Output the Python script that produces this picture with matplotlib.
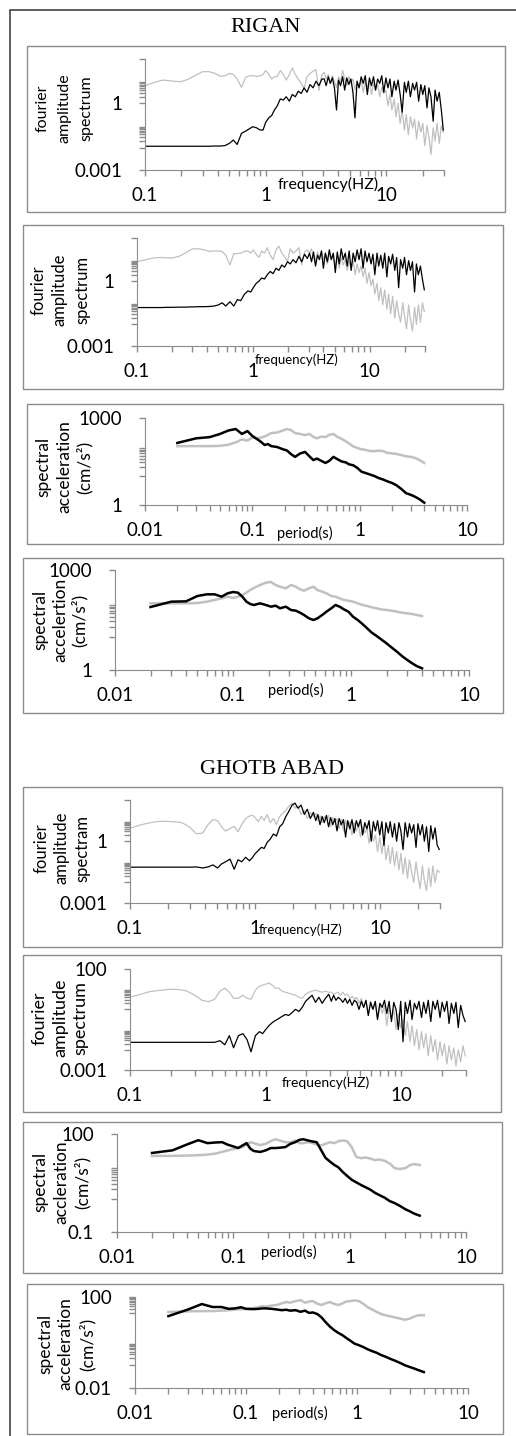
import numpy as np
import matplotlib.pyplot as plt
from matplotlib.patches import Rectangle
from matplotlib.ticker import FixedLocator, NullFormatter, LogLocator

plt.rcParams['font.family'] = ['Lato', 'DejaVu Sans']

# ---------------- Fourier amplitude spectra (log10 of amplitude) ----------------
# rows: 0.1-0.95 Hz (23), 1-2.92 Hz (20), 3.05-9.9 Hz (31), 10.3-29.6 Hz (28)
freq = [0.1, 0.12, 0.14, 0.16, 0.18, 0.2, 0.23, 0.26, 0.3, 0.34, 0.38, 0.42, 0.46, 0.5,
        0.54, 0.58, 0.63, 0.68, 0.73, 0.78, 0.84, 0.9, 0.95,
        1.0, 1.06, 1.12, 1.18, 1.25, 1.32, 1.4, 1.48, 1.57, 1.66, 1.76, 1.86, 1.97, 2.08,
        2.2, 2.33, 2.47, 2.61, 2.76, 2.92,
        3.05, 3.17, 3.3, 3.43, 3.57, 3.71, 3.86, 4.01, 4.17, 4.34, 4.51, 4.69, 4.88, 5.08,
        5.28, 5.49, 5.71, 5.94, 6.18, 6.43, 6.68, 6.95, 7.23, 7.52, 7.82, 8.13, 8.46, 8.8,
        9.15, 9.51, 9.9,
        10.3, 10.7, 11.1, 11.6, 12.0, 12.5, 13.0, 13.5, 14.1, 14.6, 15.2, 15.8, 16.5, 17.1,
        17.8, 18.5, 19.3, 20.0, 20.8, 21.7, 22.5, 23.4, 24.4, 25.3, 26.3, 27.4, 28.5, 29.6]

rigan_fas1_gray = [
    0.80, 0.95, 1.05, 1.02, 0.99, 0.98, 1.1, 1.25, 1.43, 1.43, 1.35, 1.22, 1.25, 1.35, 1.3, 1.1, 0.72, 1.18, 1.24, 1.25, 1.22, 1.24, 1.3,
    1.48, 1.3, 1.1, 1.2, 1.22, 1.48, 1.3, 1.05, 1.3, 1.6, 1.3, 1.1, 0.9, 0.67, 1.2, 1.35, 1.45, 1.52, 0.58, 1.3,
    1.4, 1.1, 1.3, 0.9, 1.26, 1.0, 0.72, 1.2, 1.0, 1.48, 1.1, 0.8, 1.2, 0.9, 1.1, 0.6, 1.0, 0.7, 1.05, 0.5, 0.95, 0.75, 1.0, 0.4, 0.9, 0.6, 0.85, 0.3, 0.7, 0.45, 0.6,
    -0.1, 0.4, -0.3, 0.2, -0.6, 0.0, -0.9, -0.3, -1.2, -0.5, -1.4, -0.6, -1.1, -0.7, -1.6, -0.8, -1.3, -0.9, -1.9, -1.0, -1.5, -2.3, -1.1, -1.7, -0.9, -1.8, -1.0, -1.3]
rigan_fas1_black = [
    -1.93, -1.93, -1.93, -1.93, -1.93, -1.93, -1.93, -1.93, -1.93, -1.93, -1.92, -1.92, -1.9, -1.8, -1.65, -1.85, -1.35, -1.25, -1.15, -1.05, -1.1, -1.2, -1.2,
    -0.85, -0.65, -0.55, -0.3, -0.1, 0.2, 0.15, 0.3, 0.1, 0.4, 0.3, 0.55, 0.45, 0.7, 0.5, 0.85, 0.7, 1.0, 0.8, 1.1,
    1.1, 0.8, 1.2, 0.9, 1.15, 0.7, -0.3, 1.05, 0.8, 1.2, 0.6, 1.15, 0.85, 1.1, 0.5, -0.65, 1.0, 0.7, 1.2, 0.9, 1.25, 0.4, 1.15, 0.8, 1.2, 0.6, 1.1, 0.9, 1.25, 0.5, 1.15,
    0.7, 1.1, 0.3, 1.0, 0.6, 1.05, 0.4, -0.4, 0.95, 0.5, 1.0, 0.3, 0.9, 0.6, 0.95, 0.1, 0.85, 0.4, 0.8, -0.2, 0.7, 0.3, -0.8, 0.6, 0.1, 0.5, -0.3, -1.2]

rigan_fas2_gray = [
    0.9, 1.0, 1.08, 1.1, 1.08, 1.07, 1.15, 1.3, 1.5, 1.5, 1.45, 1.38, 1.4, 1.4, 1.37, 1.2, 0.75, 1.27, 1.28, 1.3, 1.38, 1.4, 1.3,
    1.45, 1.25, 1.1, 1.4, 1.3, 1.55, 1.2, 1.0, 1.45, 1.62, 1.3, 1.15, 0.9, 1.5, 1.3, 1.4, 1.55, 0.75, 1.35, 1.45,
    1.3, 1.5, 1.1, 0.9, 1.35, 1.1, 1.4, 1.0, 1.3, 0.8, 1.25, 1.0, 1.2, 0.7, 1.15, 0.6, 1.1, 0.75, 1.0, 0.5, 0.9, 0.6, 0.95, 0.3, 0.8, 0.4, 0.7, 0.2, 0.6, -0.1, 0.4,
    -0.2, 0.1, -0.6, -0.1, -0.9, -0.3, -1.1, -0.4, -1.3, -0.6, -1.5, -0.7, -1.7, -0.9, -1.5, -1.9, -1.0, -1.6, -2.2, -1.1, -1.8, -2.3, -1.2, -2.0, -1.1, -1.9, -1.0, -1.4]
rigan_fas2_black = [
    -1.22, -1.22, -1.22, -1.22, -1.21, -1.21, -1.2, -1.2, -1.19, -1.18, -1.18, -1.17, -1.15, -1.1, -1.0, -1.15, -0.95, -1.15, -0.85, -0.9, -0.6, -0.45, -0.5,
    -0.3, -0.1, 0.0, 0.15, 0.1, 0.3, 0.45, 0.35, 0.6, 0.5, 0.75, 0.65, 0.9, 0.8, 1.0, 0.85, 1.15, 0.9, 1.25, 1.05,
    1.3, 0.9, 1.35, 0.7, 1.2, 1.0, 1.4, 0.6, 1.3, 0.9, 1.45, 1.0, 1.3, 0.4, 1.35, 0.8, 1.5, 1.0, 1.3, 0.7, 1.4, 0.5, 1.3, 0.9, 1.45, 1.0, 1.5, 0.6, 1.4, 0.9, 1.3,
    0.8, 1.25, 0.3, 1.3, 0.7, 1.2, 0.6, 1.3, 0.2, 1.15, 0.8, 1.25, 0.5, 1.1, -0.3, 1.0, 0.6, 1.1, 0.3, 0.95, 0.5, 0.9, -0.5, 0.8, 0.3, 0.7, 0.1, -0.4]

ghotb_fas1_gray = [
    0.63, 0.78, 0.88, 0.94, 0.97, 0.96, 0.94, 0.9, 0.68, 0.36, 0.39, 0.8, 1.05, 1.0, 0.7, 0.49, 0.62, 0.72, 0.46, 0.8, 1.1, 1.22, 1.26,
    1.15, 0.95, 1.2, 1.0, 1.3, 0.9, 1.1, 0.8, 1.2, 1.35, 1.5, 1.7, 1.85, 1.6, 1.7, 1.3, 1.5, 1.1, 1.4, 1.2,
    1.35, 1.0, 1.25, 0.9, 1.2, 1.1, 1.25, 0.7, 1.15, 0.9, 1.1, 0.6, 1.05, 0.5, 1.0, 0.7, 0.95, 0.3, 0.9, 0.5, 0.85, 0.2, 0.7, 0.4, 0.6, -0.1, 0.5, 0.0, 0.3, -0.5, 0.2,
    -0.6, 0.1, -0.9, -0.2, -1.1, -0.3, -1.2, -0.5, -1.4, -0.6, -1.6, -0.8, -1.8, -0.9, -1.5, -2.0, -1.0, -1.7, -2.3, -1.2, -1.9, -2.4, -1.3, -2.2, -1.2, -2.0, -1.4, -1.5]
ghotb_fas1_black = [
    -1.26, -1.26, -1.26, -1.26, -1.26, -1.26, -1.26, -1.26, -1.26, -1.25, -1.3, -1.25, -1.15, -1.3, -1.1, -1.0, -0.87, -1.36, -0.9, -1.0, -0.78, -0.95, -0.8,
    -0.6, -0.45, -0.3, -0.35, -0.05, 0.1, 0.35, 0.25, 0.7, 0.85, 1.2, 1.45, 1.75, 1.85, 1.6, 1.75, 1.3, 1.55, 1.1, 1.4,
    1.0, 1.3, 0.8, 1.2, 0.9, 1.25, 0.7, 1.15, 0.8, 1.1, 0.5, 1.1, 0.8, 1.05, 0.2, 1.0, 0.6, 1.05, 0.4, 1.0, 0.7, 1.05, 0.3, 0.9, 0.6, 1.0, 0.0, 0.95, 0.5, 1.0, 0.3,
    0.95, -0.2, 0.9, 0.4, 0.95, 0.2, 0.85, 0.0, 0.9, 0.5, -0.4, 0.9, 0.2, 0.85, 0.4, 0.8, -0.3, 0.85, 0.3, 0.8, 0.0, 0.7, -0.5, 0.75, 0.1, 0.65, -0.2, -0.4]

ghotb_fas2_gray = [
    0.6, 0.75, 0.88, 0.93, 0.97, 1.0, 0.98, 0.92, 0.7, 0.45, 0.38, 0.5, 0.9, 1.05, 0.85, 0.55, 0.55, 0.7, 0.55, 0.5, 0.95, 1.15, 1.2,
    1.25, 1.3, 1.2, 1.05, 1.05, 0.9, 0.85, 0.8, 0.75, 0.7, 0.6, 0.55, 0.75, 0.85, 0.9, 0.95, 0.9, 0.85, 0.9, 0.85,
    0.85, 0.75, 0.8, 0.85, 0.7, 0.85, 0.7, 0.75, 0.55, 0.65, 0.5, 0.6, 0.3, 0.55, 0.1, 0.45, -0.3, 0.4, 0.0, 0.35, -0.5, 0.25, -0.2, 0.2, -0.8, 0.1, -0.5, 0.0, -1.0, -0.2, -0.9,
    -0.5, -1.3, -0.6, -1.6, -0.8, -1.8, -1.0, -2.0, -1.1, -1.9, -1.2, -2.3, -1.3, -2.1, -1.5, -2.5, -1.6, -2.3, -1.7, -2.7, -1.8, -2.5, -1.9, -2.8, -2.0, -2.6, -1.8, -2.3]
ghotb_fas2_black = [
    -1.63, -1.63, -1.63, -1.63, -1.63, -1.63, -1.63, -1.63, -1.63, -1.63, -1.63, -1.63, -1.55, -1.75, -1.3, -1.9, -1.3, -1.2, -1.5, -2.1, -1.3, -1.1, -1.2,
    -1.0, -0.8, -0.65, -0.55, -0.45, -0.35, -0.25, -0.3, -0.15, 0.0, -0.1, 0.1, 0.4, 0.55, 0.7, 0.35, 0.6, 0.3, 0.55, 0.75,
    0.4, 0.7, 0.45, 0.6, 0.5, 0.35, 0.55, 0.3, 0.5, 0.2, 0.45, 0.35, 0.0, 0.4, 0.1, 0.45, -0.3, 0.35, 0.0, 0.4, -0.5, 0.3, 0.1, 0.45, -0.2, 0.4, -0.6, 0.35, 0.0, -1.0, 0.4,
    -1.6, 0.35, -0.2, 0.45, -0.5, 0.3, 0.0, 0.4, -0.4, 0.35, -0.2, 0.45, -0.6, 0.4, 0.0, 0.45, -0.4, 0.35, -0.1, 0.4, -0.7, 0.3, -0.2, 0.35, -0.9, 0.2, -0.3, -0.6]

# ---------------- response spectra (log10 of cm/s^2) ----------------
period = [0.02, 0.03, 0.04, 0.05, 0.06, 0.07, 0.08, 0.09, 0.1, 0.11, 0.12, 0.13, 0.14, 0.15,
          0.17, 0.19, 0.21, 0.23, 0.25, 0.28, 0.31, 0.34, 0.37, 0.4, 0.44, 0.48, 0.52, 0.57,
          0.62, 0.68, 0.74, 0.8, 0.87, 0.95, 1.04, 1.14, 1.25, 1.37, 1.5, 1.65, 1.8, 2.0,
          2.2, 2.45, 2.7, 3.0, 3.3, 3.6, 4.0]

rigan_sa1_gray = [2.03, 2.03, 2.03, 2.04, 2.08, 2.16, 2.26, 2.22, 2.33, 2.3, 2.32, 2.36, 2.42, 2.48,
                  2.5, 2.56, 2.62, 2.58, 2.48, 2.45, 2.41, 2.45, 2.35, 2.3, 2.36, 2.34, 2.42, 2.45,
                  2.35, 2.28, 2.2, 2.12, 2.02, 1.97, 1.92, 1.9, 1.86, 1.86, 1.87, 1.86, 1.8, 1.78,
                  1.76, 1.72, 1.68, 1.66, 1.62, 1.55, 1.45]
rigan_sa1_black = [2.14, 2.3, 2.34, 2.45, 2.57, 2.62, 2.45, 2.55, 2.38, 2.28, 2.18, 2.07, 2.1, 2.03,
                   2.0, 1.93, 1.88, 1.75, 1.66, 1.78, 1.83, 1.68, 1.55, 1.6, 1.52, 1.45, 1.52, 1.66,
                   1.58, 1.5, 1.47, 1.4, 1.37, 1.28, 1.15, 1.1, 1.05, 1.0, 0.93, 0.88, 0.82, 0.76,
                   0.68, 0.55, 0.41, 0.35, 0.28, 0.2, 0.08]

rigan_sa2_gray = [2.0, 2.0, 2.0, 2.01, 2.05, 2.1, 2.15, 2.2, 2.16, 2.2, 2.25, 2.32, 2.4, 2.46,
                  2.55, 2.62, 2.64, 2.55, 2.5, 2.45, 2.55, 2.5, 2.42, 2.38, 2.45, 2.5, 2.4, 2.35,
                  2.3, 2.22, 2.2, 2.15, 2.1, 2.08, 2.05, 2.0, 1.95, 1.92, 1.88, 1.85, 1.82, 1.8,
                  1.78, 1.75, 1.72, 1.7, 1.68, 1.65, 1.62]
rigan_sa2_black = [1.89, 2.05, 2.06, 2.22, 2.27, 2.27, 2.2, 2.3, 2.34, 2.32, 2.2, 2.05, 1.98, 1.95,
                   2.0, 1.95, 1.9, 1.93, 1.85, 1.9, 1.8, 1.78, 1.72, 1.65, 1.55, 1.5, 1.55, 1.65,
                   1.75, 1.85, 1.95, 1.9, 1.82, 1.75, 1.6, 1.5, 1.38, 1.25, 1.12, 1.02, 0.92, 0.8,
                   0.68, 0.55, 0.42, 0.3, 0.2, 0.12, 0.05]

ghotb_sa1_gray = [1.33, 1.33, 1.34, 1.35, 1.37, 1.4, 1.45, 1.5, 1.54, 1.58, 1.6, 1.68, 1.75, 1.72,
                  1.66, 1.7, 1.78, 1.84, 1.8, 1.75, 1.74, 1.8, 1.72, 1.72, 1.75, 1.72, 1.68, 1.65,
                  1.7, 1.75, 1.72, 1.78, 1.8, 1.78, 1.6, 1.3, 1.26, 1.28, 1.25, 1.2, 1.22, 1.18,
                  1.1, 0.95, 0.93, 0.95, 1.05, 1.08, 1.05]
ghotb_sa1_black = [1.42, 1.5, 1.68, 1.81, 1.72, 1.74, 1.75, 1.67, 1.62, 1.57, 1.65, 1.72, 1.55, 1.48,
                   1.45, 1.5, 1.57, 1.57, 1.58, 1.6, 1.7, 1.75, 1.82, 1.84, 1.8, 1.77, 1.75, 1.5,
                   1.27, 1.15, 1.05, 0.98, 0.84, 0.72, 0.6, 0.52, 0.44, 0.37, 0.3, 0.2, 0.13, 0.05,
                   -0.05, -0.12, -0.2, -0.3, -0.37, -0.44, -0.5]

ghotb_sa2_gray = [1.34, 1.37, 1.38, 1.38, 1.4, 1.42, 1.45, 1.46, 1.48, 1.5, 1.52, 1.55, 1.6, 1.58,
                  1.62, 1.65, 1.72, 1.78, 1.75, 1.82, 1.86, 1.75, 1.8, 1.82, 1.7, 1.65, 1.72, 1.78,
                  1.7, 1.65, 1.72, 1.8, 1.82, 1.85, 1.82, 1.7, 1.55, 1.45, 1.35, 1.25, 1.2, 1.15,
                  1.1, 1.05, 1.0, 1.05, 1.15, 1.2, 1.2]
ghotb_sa2_black = [1.16, 1.45, 1.69, 1.56, 1.56, 1.48, 1.5, 1.55, 1.48, 1.47, 1.47, 1.48, 1.5, 1.5,
                   1.48, 1.45, 1.42, 1.44, 1.4, 1.42, 1.35, 1.4, 1.3, 1.32, 1.25, 1.1, 0.9, 0.7,
                   0.55, 0.42, 0.32, 0.2, 0.08, -0.05, -0.12, -0.2, -0.3, -0.38, -0.45, -0.55, -0.62, -0.72,
                   -0.8, -0.9, -1.0, -1.08, -1.15, -1.22, -1.3]

# ---------------- layout (pixels of the 516 x 1436 page) ----------------
W, H = 516, 1436
fig = plt.figure(figsize=(W / 100, H / 100), dpi=100)
GRID = '#8c8c8c'


def px_box(x0, y0, x1, y1):
    return [x0 / W, 1 - y1 / H, (x1 - x0) / W, (y1 - y0) / H]


def frame(x0, y0, x1, y1, color=GRID, lw=1.0):
    fig.patches.append(Rectangle((x0 / W, 1 - y1 / H), (x1 - x0) / W, (y1 - y0) / H,
                                 transform=fig.transFigure, fill=False,
                                 edgecolor=color, linewidth=lw))


def ftext(x, y, s, **kw):
    fig.text(x / W, 1 - y / H, s, ha='center', va='center', **kw)


def ylab(lines, xs, y, size):
    # one rotated text per line, as the stacked axis titles of the original
    for s, x in zip(lines, xs):
        ftext(x, y, s, rotation=90, fontsize=size)


def panel(box, axbox, x, gray, black, xlim, ylim, yticks, ylabels, yminor, lw):
    frame(*box)
    ax = fig.add_axes(px_box(*axbox))
    ax.patch.set_alpha(0)
    ax.plot(x, np.power(10.0, gray), color='#c0c0c0', lw=lw)
    ax.plot(x, np.power(10.0, black), color='black', lw=lw)
    ax.set_xscale('log')
    ax.set_yscale('log')
    ax.set_xlim(*xlim)
    ax.set_ylim(*ylim)
    xt = [t for t in [0.01, 0.1, 1, 10] if xlim[0] <= t <= xlim[1]]
    ax.set_xticks(xt, [f'{t:g}' for t in xt])
    ax.xaxis.set_minor_locator(LogLocator(base=10, subs=np.arange(2, 10)))
    ax.xaxis.set_minor_formatter(NullFormatter())
    ax.set_yticks(yticks, ylabels)
    ax.yaxis.set_minor_locator(FixedLocator(yminor))
    ax.yaxis.set_minor_formatter(NullFormatter())
    for s in ['top', 'right']:
        ax.spines[s].set_visible(False)
    for s in ['left', 'bottom']:
        ax.spines[s].set_color(GRID)
    ax.tick_params(which='both', direction='out', length=4.5, width=1, color=GRID,
                   labelsize=13.5)
    ax.tick_params(axis='x', which='major', pad=8)
    ax.tick_params(axis='y', which='major', pad=12)
    return ax


fas_minor = [k / 100 for k in range(1, 10)] + list(range(2, 10))
sa_minor_1 = [10 * k for k in range(1, 10)]
sa_minor_01 = list(range(1, 10))
sa_minor_001 = [k / 10 for k in range(1, 10)] + [10 * k for k in range(2, 10)]

FAS = ['fourier', 'amplitude', 'spectrum']

# outer frame (only its top and left edges fall on the page) and station titles
frame(10, 10, 530, 1450, color='#444444', lw=1.2)
ftext(266, 28, 'RIGAN', family='Liberation Serif', fontsize=16)
ftext(272, 770, 'GHOTB ABAD', family='Liberation Serif', fontsize=16)

# RIGAN
panel((27, 46, 505, 212), (145, 59, 444, 170), freq, rigan_fas1_gray, rigan_fas1_black,
      (0.1, 30), (0.001, 100), [0.001, 1, 100], ['0.001', '1', ''], fas_minor, 0.9)
ylab(FAS, [43, 65, 86], 108, 11.5)
ftext(328, 184, 'frequency(HZ)', fontsize=11.5)

panel((23, 225, 503, 389), (137, 238, 425, 346), freq, rigan_fas2_gray, rigan_fas2_black,
      (0.1, 30), (0.001, 100), [0.001, 1, 100], ['0.001', '1', ''], fas_minor, 0.9)
ylab(FAS, [39, 60, 82], 290, 12)
ftext(297, 360, 'frequency(HZ)', fontsize=9.5)

panel((27, 404, 503, 544), (145, 418, 467, 505), period, rigan_sa1_gray, rigan_sa1_black,
      (0.01, 10), (1, 1000), [1, 1000], ['1', '1000'], sa_minor_1, 1.8)
ylab(['spectral', 'acceleration', '(cm/s²)'], [43, 64, 84], 467, 12.5)
ftext(305, 533, 'period(s)', fontsize=10.5)

panel((23, 558, 503, 713), (115, 570, 469, 670), period, rigan_sa2_gray, rigan_sa2_black,
      (0.01, 10), (1, 1000), [1, 1000], ['1', '1000'], sa_minor_1, 1.8)
ylab(['spectral', 'accelertion', '(cm/s²)'], [40, 60, 79], 620, 12.5)
ftext(296, 690, 'period(s)', fontsize=10.5)

# GHOTB ABAD
panel((23, 787, 502, 947), (130, 800, 440, 903), freq, ghotb_fas1_gray, ghotb_fas1_black,
      (0.1, 30), (0.001, 100), [0.001, 1, 100], ['0.001', '1', ''], fas_minor, 0.9)
ylab(['fourier', 'amplitude', 'spectram'], [42, 62, 82], 848, 12)
ftext(301, 930, 'frequency(HZ)', fontsize=9.5)

panel((23, 955, 501, 1112), (130, 969, 466, 1070), freq, ghotb_fas2_gray, ghotb_fas2_black,
      (0.1, 30), (0.001, 100), [0.001, 1, 100], ['0.001', '', '100'], fas_minor, 0.9)
ylab(FAS, [40, 60, 80], 1018, 13)
ftext(326, 1083, 'frequency(HZ)', fontsize=10)

panel((23, 1122, 502, 1273), (117, 1134, 466, 1232), period, ghotb_sa1_gray, ghotb_sa1_black,
      (0.01, 10), (0.1, 100), [0.1, 100], ['0.1', '100'], sa_minor_01, 1.8)
ylab(['spectral', 'accleration', '(cm/s²)'], [40, 61, 82], 1182, 12.5)
ftext(289, 1252, 'period(s)', fontsize=10.5)

panel((27, 1284, 503, 1434), (135, 1297, 468, 1388), period, ghotb_sa2_gray, ghotb_sa2_black,
      (0.01, 10), (0.01, 100), [0.01, 100], ['0.01', '100'], sa_minor_001, 1.8)
ylab(['spectral', 'acceleration', '(cm/s²)'], [45, 65, 87], 1344, 12.5)
ftext(300, 1413, 'period(s)', fontsize=10.5)

fig.savefig('out.png', dpi=100)
